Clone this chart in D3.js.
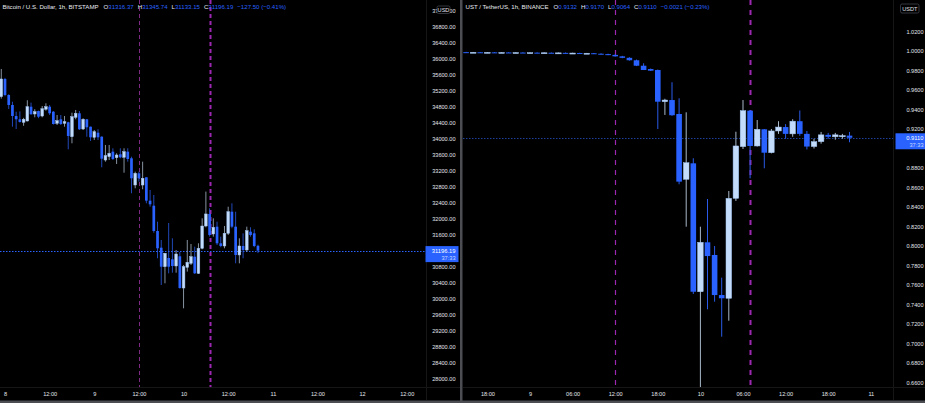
<!DOCTYPE html>
<html><head><meta charset="utf-8">
<script src="https://cdn.jsdelivr.net/npm/d3@7"></script>
<style>html,body{margin:0;padding:0;background:#000;}svg{display:block;}</style>
</head><body><svg id="chart" width="925" height="403"></svg>
<script>
// ---------------- DATA ----------------
const btcStart = "2022-05-07T23:00:00Z";
const btcOpen = [35049,35492,35091,34841,34565,34483,34408,34440,34798,34616,34690,34565,34735,34798,34673,34383,34483,34383,34408,34047,34533,34633,34240,34483,34298,34032,34147,34047,33464,33547,33672,33522,33607,33532,33672,33507,32838,33131,32838,33031,32446,32320,31687,31269,30793,31011,30978,30811,31054,30260,30778,30878,31044,30628,31254,31812,32113,31612,31795,31379,31312,31629,32170,31795,31087,31312,31212,31670,31629,31316.37];
const btcHigh = [35742,35520,35110,34923,34673,34680,34520,34960,34900,34735,34700,34815,34883,34840,34690,34590,34590,34565,34420,34648,34716,34690,34508,34490,34300,34215,34233,34060,33840,33840,33757,33632,33757,33757,33757,33547,33172,33172,33422,33031,32713,32588,31920,31462,31137,31887,31504,31211,31161,30836,31462,31361,31294,31379,32005,32673,32255,32005,31920,31545,31812,32295,32380,32170,31504,31629,31795,31780,31730,31345.74];
const btcLow = [35000,35060,34741,34298,34240,34400,34320,34430,34600,34533,34510,34533,34698,34590,34350,34340,34340,34298,33732,33882,34483,34215,34215,34047,33940,33965,33965,33281,33422,33464,33464,33364,33507,33146,33422,32631,32756,32922,32731,32380,32295,31644,31004,30335,30378,30627,30643,30643,30243,29752,30670,30836,30610,30610,31229,31780,31545,31545,31337,31280,31254,31587,31755,30878,30878,31004,31170,31545,31280,31133.15];
const btcClose = [35492,35091,34841,34565,34483,34415,34483,34798,34608,34673,34548,34748,34798,34633,34365,34448,34365,34423,34065,34548,34633,34233,34483,34283,34032,34172,34032,33497,33572,33632,33489,33589,33532,33672,33489,33006,33131,33006,33006,32446,32355,31687,31254,30793,31129,30793,30811,31111,30260,30793,30904,31044,30628,31254,31812,32113,31587,31780,31379,31312,31629,32170,31795,31087,31312,31212,31695,31587,31312,31196.19];

const ustStart = "2022-05-08T15:00:00Z";
const ustOpen = [0.9988,0.9986,0.9987,0.9985,0.9986,0.9984,0.9985,0.9983,0.9984,0.9982,0.9983,0.9981,0.9982,0.9980,0.9981,0.9978,0.9979,0.9976,0.9977,0.9972,0.9968,0.9960,0.9945,0.9930,0.9905,0.9849,0.9815,0.9805,0.9480,0.9497,0.9354,0.8684,0.8848,0.7531,0.8038,0.7908,0.7497,0.7464,0.8489,0.9019,0.9388,0.9026,0.9197,0.8957,0.9180,0.9220,0.9150,0.9280,0.9150,0.9020,0.9070,0.9140,0.9120,0.9120,0.9132];
const ustHigh = [0.9991,0.9990,0.9990,0.9989,0.9989,0.9988,0.9988,0.9987,0.9987,0.9986,0.9986,0.9985,0.9985,0.9984,0.9984,0.9982,0.9982,0.9980,0.9980,0.9976,0.9972,0.9966,0.9950,0.9936,0.9912,0.9874,0.9820,0.9810,0.9510,0.9679,0.9515,0.9371,0.8900,0.8198,0.8482,0.8000,0.7675,0.8564,0.9172,0.9497,0.9395,0.9292,0.9200,0.9200,0.9280,0.9250,0.9300,0.9390,0.9180,0.9100,0.9170,0.9160,0.9160,0.9150,0.9170];
const ustLow = [0.9983,0.9983,0.9982,0.9982,0.9981,0.9981,0.9980,0.9980,0.9979,0.9979,0.9978,0.9978,0.9977,0.9977,0.9975,0.9975,0.9973,0.9973,0.9969,0.9965,0.9957,0.9942,0.9926,0.9901,0.9845,0.9805,0.9795,0.9200,0.9344,0.9335,0.8633,0.8198,0.7508,0.6551,0.7351,0.7429,0.7070,0.7234,0.8462,0.8995,0.8694,0.9020,0.8797,0.8950,0.9150,0.9100,0.9120,0.9130,0.8990,0.9000,0.9050,0.9100,0.9090,0.9100,0.9064];
const ustClose = [0.9986,0.9987,0.9985,0.9986,0.9984,0.9985,0.9983,0.9984,0.9982,0.9983,0.9981,0.9982,0.9980,0.9981,0.9978,0.9979,0.9976,0.9977,0.9972,0.9968,0.9960,0.9945,0.9930,0.9905,0.9849,0.9805,0.9798,0.9480,0.9497,0.9341,0.8660,0.8854,0.7531,0.8038,0.7897,0.7497,0.7464,0.8489,0.9026,0.9388,0.9026,0.9197,0.8957,0.9180,0.9220,0.9150,0.9280,0.9150,0.9020,0.9070,0.9140,0.9120,0.9140,0.9132,0.9110];

const btcPriceTicks = [28000,28400,28800,29200,29600,30000,30400,30800,31600,32000,32400,32800,33200,33600,34000,34400,34800,35200,35600,36000,36400,36800,37200];
const ustPriceTicks = [0.66,0.68,0.70,0.72,0.74,0.76,0.78,0.80,0.82,0.84,0.86,0.88,0.92,0.94,0.96,0.98,1.00,1.02];
const btcTimeTicks = ["2022-05-08T00:00:00Z","2022-05-08T12:00:00Z","2022-05-09T00:00:00Z","2022-05-09T12:00:00Z","2022-05-10T00:00:00Z","2022-05-10T12:00:00Z","2022-05-11T00:00:00Z","2022-05-11T12:00:00Z","2022-05-12T00:00:00Z","2022-05-12T12:00:00Z"];
const btcTimeLabels = ["8","12:00","9","12:00","10","12:00","11","12:00","12","12:00"];
const ustTimeTicks = ["2022-05-08T18:00:00Z","2022-05-09T00:00:00Z","2022-05-09T06:00:00Z","2022-05-09T12:00:00Z","2022-05-09T18:00:00Z","2022-05-10T00:00:00Z","2022-05-10T06:00:00Z","2022-05-10T12:00:00Z","2022-05-10T18:00:00Z","2022-05-11T00:00:00Z"];
const ustTimeLabels = ["18:00","9","06:00","12:00","18:00","10","06:00","12:00","18:00","11"];
const markerTimes = ["2022-05-09T12:00:00Z","2022-05-10T07:00:00Z"];

const btcTitle = "Bitcoin / U.S. Dollar, 1h, BITSTAMP";
const ustTitle = "UST / TetherUS, 1h, BINANCE";
const btcChange = "\u2212127.50 (\u22120.41%)";
const ustChange = "\u22120.0021 (\u22120.23%)";
const countdown = "37:33";

// ---------------- DRAW ----------------
const svg = d3.select("#chart");
const FONT = "'Liberation Sans', Arial, sans-serif";
const UP = "#c3dcfc", UPEDGE = "#9ec1ef", DOWN = "#2962ff", UPWICK = "#a9b8c9", DOWNWICK = "#2a5ae8";
const HOUR = 3600e3;
const hAt = (base, h) => new Date(Date.parse(base) + h * HOUR);

svg.append("rect").attr("width", 925).attr("height", 403).attr("fill", "#000");

function candles(start, o, h, l, c) {
  const t0 = Date.parse(start);
  return o.map((d, i) => ({ t: new Date(t0 + i * HOUR), o: d, h: h[i], l: l[i], c: c[i] }));
}

function drawPanel(p) {
  const g = svg.append("g");
  const clipId = "clip" + p.id;
  svg.append("defs").append("clipPath").attr("id", clipId)
    .append("rect").attr("x", p.x0).attr("y", 0).attr("width", p.x1 - p.x0).attr("height", p.y1);
  const plot = g.append("g").attr("clip-path", `url(#${clipId})`);

  g.append("line").attr("x1", p.x1 + 0.5).attr("x2", p.x1 + 0.5).attr("y1", 0).attr("y2", 400).attr("stroke", "#161616");
  g.append("line").attr("x1", p.x0).attr("x2", p.frameRight).attr("y1", p.y1 + 0.5).attr("y2", p.y1 + 0.5).attr("stroke", "#161616");

  markerTimes.forEach((m, i) => {
    const x = Math.round(p.x(new Date(m))) + 0.5;
    plot.append("line").attr("x1", x).attr("x2", x).attr("y1", 0).attr("y2", p.y1)
      .attr("stroke", p.markerColors[i]).attr("stroke-width", p.markerWidths[i])
      .attr("stroke-dasharray", p.markerDash);
  });

  const last = p.data[p.data.length - 1].c;
  const yl = Math.round(p.y(last)) + 0.5;
  plot.append("line").attr("x1", p.x0).attr("x2", p.x1).attr("y1", yl).attr("y2", yl)
    .attr("stroke", p.lineColor).attr("stroke-width", 1).attr("stroke-dasharray", "1.5,1.5");

  const cg = plot.append("g");
  const bw = p.bodyW;
  cg.selectAll("line.wick").data(p.data).join("line").attr("class", "wick")
    .attr("x1", d => p.x(d.t)).attr("x2", d => p.x(d.t))
    .attr("y1", d => p.y(d.h)).attr("y2", d => p.y(d.l))
    .attr("stroke", d => d.c >= d.o ? UPWICK : DOWNWICK).attr("stroke-width", p.wickW);
  cg.selectAll("rect.body").data(p.data).join("rect").attr("class", "body")
    .attr("x", d => p.x(d.t) - bw / 2).attr("width", bw)
    .attr("y", d => p.y(Math.max(d.o, d.c)))
    .attr("height", d => Math.max(1, Math.abs(p.y(d.o) - p.y(d.c))))
    .attr("fill", d => d.c >= d.o ? UP : DOWN)
    .attr("stroke", d => d.c >= d.o ? UPEDGE : "none").attr("stroke-width", 0.5);

  const ya = g.append("g").attr("transform", `translate(${p.labelRight},0)`)
    .call(d3.axisLeft(p.y).tickValues(p.priceTicks).tickFormat(p.fmt).tickSize(0).tickPadding(0));
  ya.select(".domain").remove();
  ya.selectAll("text").attr("font-family", FONT).attr("font-size", 5.6).attr("fill", "#e4e6ec");

  const xa = g.append("g").attr("transform", `translate(0,${p.y1})`)
    .call(d3.axisBottom(p.x).tickValues(p.timeTicks.map(d => new Date(d)))
      .tickFormat((d, i) => p.timeLabels[i]).tickSize(0).tickPadding(5.5));
  xa.select(".domain").remove();
  xa.selectAll("text").attr("font-family", FONT).attr("font-size", 5.6).attr("fill", "#e4e6ec");

  const bb = g.append("g");
  bb.append("rect").attr("x", p.badge[0]).attr("y", p.badge[1]).attr("width", p.badge[2]).attr("height", p.badge[3])
    .attr("rx", 1.5).attr("fill", "#000").attr("stroke", "#4a4e59").attr("stroke-width", 0.7);
  bb.append("text").attr("x", p.badge[0] + p.badge[2] / 2).attr("y", p.badge[1] + p.badge[3] / 2 + 2)
    .attr("text-anchor", "middle").attr("font-family", FONT).attr("font-size", 5.6).attr("fill", "#e0e3eb").text(p.currency);

  const lb = g.append("g");
  const yc = p.y(last);
  lb.append("rect").attr("x", p.boxX).attr("y", yc - 4.5).attr("width", p.boxW).attr("height", 16)
    .attr("fill", "#2962ff");
  lb.append("text").attr("x", p.labelRight).attr("y", yc + 2).attr("text-anchor", "end")
    .attr("font-family", FONT).attr("font-size", 5.8).attr("fill", "#ffffff").text(p.fmtLast(last));
  lb.append("text").attr("x", p.labelRight).attr("y", yc + 9).attr("text-anchor", "end")
    .attr("font-family", FONT).attr("font-size", 5.6).attr("fill", "#c9d8ff").text(countdown);

  const lastC = p.data[p.data.length - 1];
  const ht = g.append("text").attr("x", p.x0 + 2.5).attr("y", 8.5)
    .attr("font-family", FONT).attr("font-size", 6.1).attr("fill", "#e8eaf0");
  ht.append("tspan").text(p.title);
  const parts = [["O", lastC.o], ["H", lastC.h], ["L", lastC.l], ["C", lastC.c]];
  parts.forEach((q, i) => {
    ht.append("tspan").attr("dx", i === 0 ? 5 : 4).attr("fill", "#e8eaf0").text(q[0]);
    ht.append("tspan").attr("fill", "#2962ff").text(p.fmtLast(q[1]));
  });
  ht.append("tspan").attr("dx", 4).attr("fill", "#2962ff").text(p.change);
}

const baseL = "2022-05-08T00:00:00Z";
drawPanel({
  id: "L", x0: 0, x1: 426, y1: 387, frameRight: 460, labelRight: 455.5,
  x: d3.scaleUtc().domain([hAt(baseL, -5 / 3.72), hAt(baseL, 421 / 3.72)]).range([0, 426]),
  y: d3.scaleLinear().domain([27782, 37469]).range([387, 0]),
  data: candles(btcStart, btcOpen, btcHigh, btcLow, btcClose),
  bodyW: 2.7, wickW: 0.8,
  priceTicks: btcPriceTicks, fmt: d => d.toFixed(2), fmtLast: d => d.toFixed(2),
  timeTicks: btcTimeTicks, timeLabels: btcTimeLabels,
  markerColors: ["#7e2a84", "#9c27b0"], markerWidths: [1, 2], markerDash: "4,3",
  lineColor: "#2962ff", badge: [437, 6, 13, 7.5], currency: "USD",
  boxX: 425.5, boxW: 33, title: btcTitle, change: btcChange
});

const baseR = "2022-05-09T00:00:00Z";
drawPanel({
  id: "R", x0: 463, x1: 893, y1: 387, frameRight: 925, labelRight: 923.5,
  x: d3.scaleUtc().domain([hAt(baseR, -67 / 7.1), hAt(baseR, 363 / 7.1)]).range([463, 893]),
  y: d3.scaleLinear().domain([0.6554, 1.0523]).range([387, 0]),
  data: candles(ustStart, ustOpen, ustHigh, ustLow, ustClose),
  bodyW: 5.6, wickW: 1,
  priceTicks: ustPriceTicks, fmt: d => d.toFixed(4), fmtLast: d => d.toFixed(4),
  timeTicks: ustTimeTicks, timeLabels: ustTimeLabels,
  markerColors: ["#9c27b0", "#9c27b0"], markerWidths: [1.2, 2], markerDash: "5,5",
  lineColor: "#1d3f9a", badge: [900.5, 4, 18.5, 9], currency: "USDT",
  boxX: 895.5, boxW: 29.5, title: ustTitle, change: ustChange
});

svg.append("rect").attr("x", 460).attr("y", 0).attr("width", 2.5).attr("height", 403).attr("fill", "#4b4d52");
svg.append("rect").attr("x", 0).attr("y", 400.5).attr("width", 925).attr("height", 2.5).attr("fill", "#4b4d52");
</script></body></html>
